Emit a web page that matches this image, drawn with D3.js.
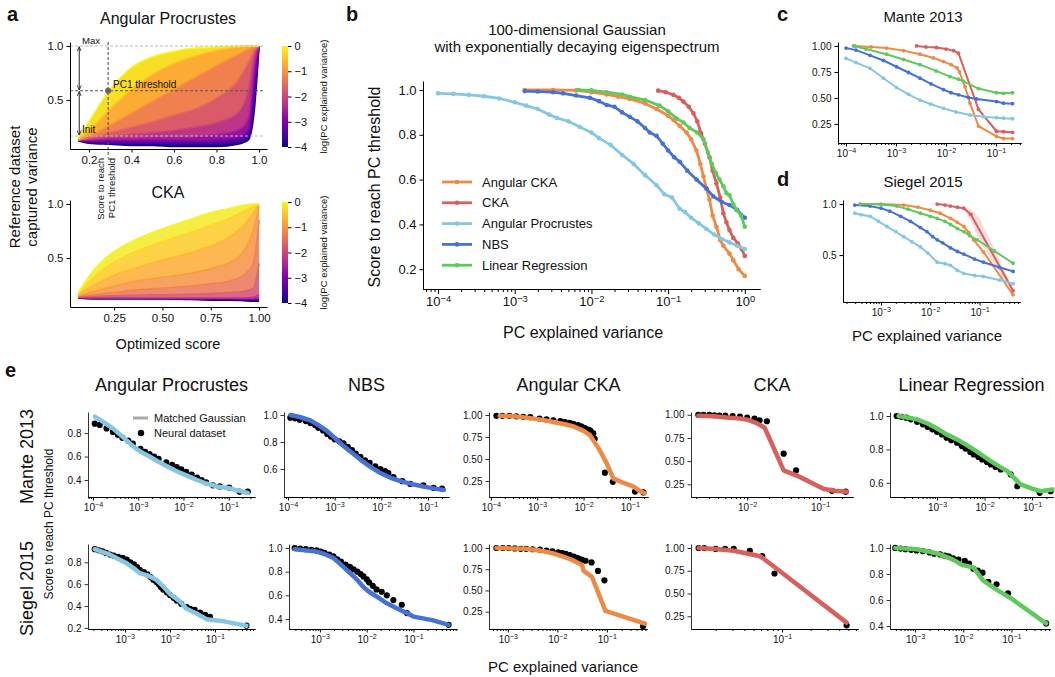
<!doctype html>
<html lang="en">
<head>
<meta charset="utf-8"/>
<title>Score to reach PC threshold</title>
<script src="https://d3js.org/d3.v7.min.js"></script>
<style>
    body { margin: 0; background: #fff; }
    text { font-family: "Liberation Sans", Arial, sans-serif; fill: #111; }
</style>
</head>
<body>
<script>
// ---------------- data ----------------
// panel a: optimisation trajectories, one curve per log(PC explained variance) level (bottom -> top)
const aProcScore = [0.15, 0.2, 0.3, 0.4, 0.5, 0.6, 0.7, 0.8, 0.9, 0.95, 0.98, 1.0];
const aProcLevels = [-4, -3.5, -3, -2.5, -2, -1.5, -1, -0.5, 0];
const aProcCurves = [
    [0.12, 0.10, 0.09, 0.08, 0.08, 0.07, 0.07, 0.07, 0.09, 0.13, 0.45, 1.0],
    [0.12, 0.11, 0.10, 0.10, 0.10, 0.10, 0.10, 0.10, 0.12, 0.17, 0.55, 1.0],
    [0.13, 0.12, 0.12, 0.12, 0.12, 0.12, 0.12, 0.13, 0.15, 0.22, 0.70, 1.0],
    [0.13, 0.13, 0.14, 0.14, 0.15, 0.15, 0.16, 0.18, 0.22, 0.33, 0.85, 1.0],
    [0.13, 0.14, 0.16, 0.18, 0.20, 0.22, 0.25, 0.29, 0.38, 0.60, 0.93, 1.0],
    [0.13, 0.15, 0.20, 0.25, 0.30, 0.36, 0.42, 0.52, 0.68, 0.85, 0.97, 1.0],
    [0.13, 0.17, 0.27, 0.38, 0.49, 0.60, 0.71, 0.82, 0.92, 0.97, 0.99, 1.0],
    [0.14, 0.22, 0.42, 0.60, 0.74, 0.84, 0.91, 0.96, 0.99, 1.0, 1.0, 1.0],
    [0.15, 0.30, 0.60, 0.80, 0.90, 0.95, 0.98, 0.99, 1.0, 1.0, 1.0, 1.0]
];
const aThreshold = {score: 0.29, variance: 0.585, init: 0.167, max: 1.0};

const aCkaScore = [0.065, 0.15, 0.25, 0.35, 0.5, 0.65, 0.75, 0.85, 0.92, 0.97, 1.0];
const aCkaLevels = [-4, -3, -2.2, -1.6, -1.2, -0.9, -0.6, -0.3, 0];
const aCkaCurves = [
    [0.13, 0.12, 0.12, 0.12, 0.12, 0.115, 0.11, 0.11, 0.105, 0.10, 0.10],
    [0.13, 0.125, 0.125, 0.125, 0.12, 0.12, 0.12, 0.12, 0.115, 0.115, 0.12],
    [0.14, 0.13, 0.13, 0.13, 0.13, 0.13, 0.13, 0.13, 0.13, 0.135, 0.16],
    [0.14, 0.145, 0.15, 0.155, 0.16, 0.165, 0.17, 0.18, 0.19, 0.22, 0.45],
    [0.15, 0.16, 0.18, 0.20, 0.22, 0.24, 0.26, 0.29, 0.34, 0.45, 0.85],
    [0.15, 0.19, 0.24, 0.28, 0.32, 0.36, 0.40, 0.46, 0.56, 0.75, 0.98],
    [0.16, 0.25, 0.34, 0.40, 0.48, 0.55, 0.61, 0.70, 0.80, 0.92, 1.0],
    [0.17, 0.33, 0.46, 0.55, 0.65, 0.74, 0.80, 0.87, 0.93, 0.98, 1.0],
    [0.18, 0.40, 0.56, 0.66, 0.77, 0.86, 0.92, 0.96, 0.99, 1.0, 1.0]
];
const colorbarTicks = [0, -1, -2, -3, -4];

// methods (legend order) and colours
const methodNames = ["Angular CKA", "CKA", "Angular Procrustes", "NBS", "Linear Regression"];
const methodColors = ["#ee8a45", "#d75f5c", "#86c6e2", "#4671d5", "#5fc95d"];

// panel b: [log10(PC explained variance), score to reach PC threshold]
const bAngCka = [[-2.87, 1.0], [-2.5, 1.0], [-2.2, 0.998], [-2.0, 0.99], [-1.8, 0.98], [-1.65, 0.97], [-1.5, 0.96], [-1.3, 0.94], [-1.15, 0.915], [-1.0, 0.885], [-0.93, 0.866], [-0.85, 0.84], [-0.76, 0.81], [-0.7, 0.78], [-0.63, 0.73], [-0.58, 0.67], [-0.54, 0.615], [-0.5, 0.56], [-0.46, 0.51], [-0.42, 0.44], [-0.37, 0.39], [-0.32, 0.33], [-0.28, 0.305], [-0.2, 0.27], [-0.15, 0.24], [-0.08, 0.2], [0, 0.17]];
const bCka = [[-1.13, 0.997], [-1.03, 0.99], [-0.93, 0.978], [-0.86, 0.965], [-0.8, 0.948], [-0.73, 0.925], [-0.67, 0.896], [-0.62, 0.86], [-0.57, 0.807], [-0.52, 0.76], [-0.46, 0.70], [-0.42, 0.64], [-0.37, 0.583], [-0.32, 0.52], [-0.28, 0.45], [-0.24, 0.41], [-0.2, 0.375], [-0.15, 0.34], [-0.09, 0.315], [-0.04, 0.29], [0, 0.259]];
const bAngProc = [[-4, 0.985], [-3.8, 0.983], [-3.6, 0.978], [-3.4, 0.972], [-3.2, 0.962], [-3.0, 0.945], [-2.85, 0.93], [-2.7, 0.915], [-2.55, 0.89], [-2.45, 0.875], [-2.3, 0.86], [-2.15, 0.835], [-2.0, 0.81], [-1.9, 0.785], [-1.75, 0.755], [-1.6, 0.71], [-1.45, 0.67], [-1.3, 0.62], [-1.15, 0.575], [-1.05, 0.535], [-0.95, 0.52], [-0.85, 0.47], [-0.78, 0.455], [-0.7, 0.43], [-0.6, 0.405], [-0.5, 0.38], [-0.4, 0.355], [-0.3, 0.335], [-0.2, 0.32], [-0.1, 0.305], [0, 0.29]];
const bNbs = [[-2.87, 0.995], [-2.7, 0.993], [-2.5, 0.99], [-2.37, 0.985], [-2.2, 0.975], [-2.02, 0.965], [-1.9, 0.95], [-1.8, 0.933], [-1.7, 0.925], [-1.6, 0.9], [-1.5, 0.88], [-1.4, 0.86], [-1.3, 0.83], [-1.24, 0.81], [-1.15, 0.795], [-1.07, 0.76], [-1.0, 0.73], [-0.92, 0.7], [-0.85, 0.68], [-0.75, 0.64], [-0.63, 0.6], [-0.5, 0.56], [-0.41, 0.525], [-0.3, 0.5], [-0.2, 0.487], [-0.1, 0.465], [0, 0.43]];
const bLinReg = [[-2.17, 1.0], [-2.0, 0.998], [-1.8, 0.99], [-1.6, 0.98], [-1.5, 0.97], [-1.3, 0.955], [-1.11, 0.93], [-1.0, 0.905], [-0.89, 0.873], [-0.8, 0.855], [-0.72, 0.83], [-0.62, 0.81], [-0.54, 0.78], [-0.48, 0.72], [-0.43, 0.67], [-0.38, 0.63], [-0.33, 0.6], [-0.28, 0.57], [-0.24, 0.54], [-0.2, 0.53], [-0.15, 0.49], [-0.11, 0.465], [-0.05, 0.44], [0, 0.39]];

// panel c: Mante 2013
const cAngCka = [[-3.82, 1.0], [-3.5, 0.99], [-3.19, 0.98], [-2.85, 0.955], [-2.52, 0.92], [-2.25, 0.885], [-2.05, 0.85], [-1.9, 0.82], [-1.78, 0.79], [-1.73, 0.75], [-1.62, 0.61], [-1.52, 0.45], [-1.35, 0.23], [-0.99, 0.13], [-0.85, 0.11], [-0.67, 0.11]];
const cCka = [[-2.59, 1.0], [-2.4, 0.99], [-2.19, 0.985], [-2.0, 0.97], [-1.85, 0.955], [-1.75, 0.93], [-1.35, 0.39], [-0.99, 0.18], [-0.85, 0.175], [-0.67, 0.17]];
const cAngProc = [[-4, 0.88], [-3.8, 0.84], [-3.52, 0.785], [-3.25, 0.69], [-2.99, 0.60], [-2.75, 0.535], [-2.52, 0.48], [-2.3, 0.44], [-2.05, 0.40], [-1.8, 0.365], [-1.52, 0.336], [-1.25, 0.32], [-0.99, 0.31], [-0.85, 0.305], [-0.67, 0.30]];
const cNbs = [[-4, 0.98], [-3.8, 0.96], [-3.52, 0.91], [-3.25, 0.86], [-2.99, 0.80], [-2.75, 0.745], [-2.52, 0.69], [-2.3, 0.635], [-2.05, 0.58], [-1.9, 0.55], [-1.75, 0.53], [-1.55, 0.505], [-1.39, 0.49], [-0.99, 0.465], [-0.85, 0.45], [-0.67, 0.445]];
const cLinReg = [[-3.85, 1.0], [-3.6, 0.97], [-3.19, 0.92], [-2.85, 0.87], [-2.52, 0.82], [-2.2, 0.76], [-1.92, 0.705], [-1.75, 0.68], [-1.65, 0.66], [-1.35, 0.59], [-0.99, 0.55], [-0.85, 0.545], [-0.67, 0.55]];

// panel d: Siegel 2015
const dAngCka = [[-3.42, 1.0], [-3.0, 1.0], [-2.54, 0.99], [-2.25, 0.97], [-2.0, 0.94], [-1.8, 0.91], [-1.59, 0.86], [-1.45, 0.82], [-1.32, 0.78], [-1.22, 0.72], [-1.12, 0.65], [-0.92, 0.53], [-0.32, 0.11]];
const dCka = [[-1.86, 1.0], [-1.7, 0.99], [-1.59, 0.98], [-1.45, 0.97], [-1.32, 0.96], [-1.18, 0.90], [-0.32, 0.15]];
const dCkaBand = [[-1.32, 0.965, 0.955], [-1.18, 0.95, 0.84], [-1.0, 0.86, 0.64], [-0.8, 0.66, 0.48], [-0.32, 0.17, 0.13]];
const dAngProc = [[-3.53, 0.91], [-3.4, 0.895], [-3.22, 0.88], [-3.05, 0.83], [-2.88, 0.78], [-2.7, 0.73], [-2.54, 0.68], [-2.37, 0.63], [-2.2, 0.58], [-2.05, 0.52], [-1.86, 0.43], [-1.7, 0.415], [-1.59, 0.40], [-1.45, 0.35], [-1.32, 0.32], [-1.1, 0.30], [-0.92, 0.29], [-0.6, 0.255], [-0.32, 0.22]];
const dNbs = [[-3.53, 0.99], [-3.22, 0.98], [-3.0, 0.96], [-2.82, 0.93], [-2.6, 0.88], [-2.4, 0.83], [-2.2, 0.77], [-2.07, 0.73], [-1.95, 0.68], [-1.86, 0.65], [-1.75, 0.62], [-1.59, 0.57], [-1.45, 0.535], [-1.32, 0.51], [-1.1, 0.46], [-0.92, 0.43], [-0.6, 0.38], [-0.32, 0.34]];
const dLinReg = [[-3.42, 1.0], [-3.0, 0.995], [-2.68, 0.98], [-2.45, 0.95], [-2.2, 0.91], [-2.0, 0.88], [-1.86, 0.86], [-1.7, 0.83], [-1.59, 0.80], [-1.45, 0.76], [-1.32, 0.73], [-1.2, 0.69], [-1.05, 0.65], [-0.7, 0.54], [-0.32, 0.42]];

// panel e: matched Gaussian (line) vs neural dataset (dots)
const eManteAngProcGauss = [[-3.96, 0.94], [-3.75, 0.89], [-3.56, 0.84], [-3.35, 0.77], [-3.12, 0.69], [-2.95, 0.64], [-2.75, 0.60], [-2.55, 0.555], [-2.38, 0.52], [-2.15, 0.475], [-1.94, 0.44], [-1.7, 0.40], [-1.5, 0.37], [-1.25, 0.345], [-0.99, 0.33], [-0.8, 0.31], [-0.58, 0.29]];
const eManteAngProcNeural = [[-3.96, 0.88], [-3.85, 0.87], [-3.7, 0.84], [-3.56, 0.81], [-3.45, 0.785], [-3.35, 0.76], [-3.22, 0.735], [-3.12, 0.71], [-2.95, 0.665], [-2.85, 0.64], [-2.75, 0.62], [-2.65, 0.60], [-2.55, 0.58], [-2.38, 0.55], [-2.25, 0.53], [-2.15, 0.51], [-2.05, 0.49], [-1.94, 0.47], [-1.82, 0.445], [-1.7, 0.42], [-1.6, 0.40], [-1.5, 0.38], [-1.35, 0.355], [-1.2, 0.345], [-0.99, 0.335], [-0.76, 0.30], [-0.58, 0.30]];
const eSiegelAngProcGauss = [[-3.67, 0.92], [-3.5, 0.895], [-3.33, 0.87], [-3.15, 0.83], [-2.96, 0.79], [-2.8, 0.745], [-2.67, 0.70], [-2.5, 0.68], [-2.3, 0.64], [-2.15, 0.58], [-2.0, 0.51], [-1.8, 0.45], [-1.63, 0.375], [-1.4, 0.33], [-1.19, 0.28], [-0.8, 0.26], [-0.3, 0.22]];
const eSiegelAngProcNeural = [[-3.67, 0.92], [-3.58, 0.91], [-3.5, 0.9], [-3.42, 0.885], [-3.33, 0.87], [-3.25, 0.86], [-3.15, 0.85], [-3.05, 0.84], [-2.96, 0.825], [-2.88, 0.8], [-2.8, 0.78], [-2.73, 0.755], [-2.67, 0.73], [-2.58, 0.71], [-2.5, 0.69], [-2.43, 0.665], [-2.37, 0.64], [-2.3, 0.62], [-2.25, 0.6], [-2.2, 0.575], [-2.15, 0.55], [-2.07, 0.525], [-2.0, 0.5], [-1.92, 0.475], [-1.85, 0.45], [-1.75, 0.42], [-1.63, 0.39], [-1.55, 0.375], [-1.45, 0.365], [-1.33, 0.34], [-1.22, 0.32], [-1.11, 0.30], [-0.3, 0.22]];
const eManteNbsGauss = [[-3.95, 1.0], [-3.75, 0.985], [-3.52, 0.96], [-3.35, 0.925], [-3.16, 0.88], [-3.0, 0.83], [-2.81, 0.77], [-2.63, 0.72], [-2.45, 0.67], [-2.25, 0.62], [-2.02, 0.57], [-1.8, 0.535], [-1.59, 0.51], [-1.3, 0.485], [-1.09, 0.47], [-0.85, 0.455], [-0.66, 0.445]];
const eManteNbsNeural = [[-3.95, 0.98], [-3.85, 0.975], [-3.75, 0.965], [-3.62, 0.955], [-3.52, 0.94], [-3.42, 0.925], [-3.35, 0.905], [-3.25, 0.885], [-3.16, 0.86], [-3.08, 0.84], [-3.0, 0.82], [-2.9, 0.805], [-2.81, 0.79], [-2.72, 0.765], [-2.63, 0.74], [-2.55, 0.715], [-2.45, 0.69], [-2.35, 0.665], [-2.25, 0.645], [-2.13, 0.62], [-2.02, 0.60], [-1.92, 0.585], [-1.85, 0.57], [-1.74, 0.54], [-1.55, 0.51], [-1.38, 0.49], [-1.1, 0.48], [-0.88, 0.46], [-0.7, 0.455]];
const eSiegelNbsGauss = [[-3.54, 0.99], [-3.3, 0.98], [-3.07, 0.97], [-2.9, 0.95], [-2.71, 0.915], [-2.55, 0.86], [-2.36, 0.79], [-2.2, 0.73], [-2.07, 0.67], [-1.95, 0.63], [-1.79, 0.59], [-1.6, 0.54], [-1.36, 0.49], [-1.2, 0.46], [-1.14, 0.45], [-1.0, 0.42], [-0.6, 0.39], [-0.25, 0.35]];
const eSiegelNbsNeural = [[-3.54, 1.0], [-3.42, 0.995], [-3.3, 0.99], [-3.18, 0.985], [-3.07, 0.98], [-2.98, 0.97], [-2.9, 0.96], [-2.8, 0.945], [-2.71, 0.93], [-2.63, 0.905], [-2.55, 0.885], [-2.45, 0.86], [-2.36, 0.84], [-2.28, 0.82], [-2.2, 0.80], [-2.13, 0.78], [-2.07, 0.76], [-2.0, 0.735], [-1.95, 0.71], [-1.87, 0.68], [-1.79, 0.65], [-1.68, 0.63], [-1.57, 0.60], [-1.43, 0.56], [-1.25, 0.52], [-1.14, 0.45], [-0.25, 0.35]];
const eManteAngCkaGauss = [[-3.81, 0.99], [-3.5, 0.985], [-3.23, 0.97], [-2.95, 0.95], [-2.65, 0.92], [-2.4, 0.895], [-2.22, 0.87], [-2.0, 0.82], [-1.86, 0.77], [-1.75, 0.68], [-1.65, 0.60], [-1.5, 0.45], [-1.36, 0.28], [-1.15, 0.23], [-0.93, 0.19], [-0.8, 0.14], [-0.68, 0.11]];
const eManteAngCkaNeural = [[-3.88, 0.99], [-3.75, 0.99], [-3.6, 0.99], [-3.45, 0.985], [-3.3, 0.98], [-3.15, 0.975], [-2.95, 0.96], [-2.8, 0.95], [-2.65, 0.94], [-2.5, 0.93], [-2.4, 0.92], [-2.3, 0.91], [-2.22, 0.90], [-2.12, 0.885], [-2.05, 0.87], [-1.98, 0.855], [-1.94, 0.84], [-1.88, 0.83], [-1.85, 0.82], [-1.79, 0.79], [-1.76, 0.73], [-1.54, 0.345], [-1.37, 0.24], [-0.89, 0.13], [-0.71, 0.12]];
const eSiegelAngCkaGauss = [[-3.23, 1.0], [-2.9, 0.995], [-2.63, 0.99], [-2.35, 0.97], [-2.1, 0.94], [-1.9, 0.9], [-1.7, 0.86], [-1.5, 0.80], [-1.47, 0.73], [-1.3, 0.66], [-1.03, 0.26], [-0.23, 0.11]];
const eSiegelAngCkaNeural = [[-3.23, 1.0], [-3.1, 1.0], [-2.98, 1.0], [-2.86, 0.995], [-2.74, 0.99], [-2.63, 0.99], [-2.5, 0.985], [-2.35, 0.98], [-2.22, 0.97], [-2.1, 0.96], [-1.98, 0.95], [-1.9, 0.94], [-1.83, 0.93], [-1.75, 0.915], [-1.67, 0.90], [-1.6, 0.885], [-1.55, 0.87], [-1.5, 0.86], [-1.43, 0.85], [-1.31, 0.83], [-1.18, 0.73], [-1.05, 0.62], [-0.27, 0.08]];
const eManteCkaGauss = [[-2.67, 0.99], [-2.45, 0.985], [-2.28, 0.97], [-2.1, 0.96], [-2.01, 0.95], [-1.87, 0.91], [-1.76, 0.86], [-1.5, 0.40], [-1.28, 0.33], [-0.95, 0.20], [-0.8, 0.18], [-0.63, 0.17]];
const eManteCkaNeural = [[-2.67, 1.0], [-2.6, 1.0], [-2.52, 1.0], [-2.45, 0.995], [-2.38, 0.99], [-2.3, 0.99], [-2.2, 0.985], [-2.1, 0.98], [-2.0, 0.97], [-1.9, 0.96], [-1.83, 0.94], [-1.73, 0.93], [-1.5, 0.58], [-1.33, 0.40], [-0.84, 0.18], [-0.65, 0.17]];
const eSiegelCkaGauss = [[-1.88, 1.0], [-1.7, 0.99], [-1.51, 0.97], [-1.23, 0.91], [-1.09, 0.80], [-0.32, 0.18]];
const eSiegelCkaNeural = [[-1.88, 1.0], [-1.82, 1.0], [-1.7, 0.99], [-1.6, 0.99], [-1.51, 0.99], [-1.34, 0.97], [-1.21, 0.91], [-1.08, 0.72], [-0.32, 0.15]];
const eManteLinRegGauss = [[-3.81, 1.0], [-3.6, 0.99], [-3.42, 0.98], [-3.2, 0.955], [-3.0, 0.925], [-2.8, 0.89], [-2.58, 0.86], [-2.4, 0.83], [-2.23, 0.80], [-2.05, 0.765], [-1.87, 0.73], [-1.7, 0.70], [-1.52, 0.67], [-1.38, 0.63], [-1.24, 0.59], [-1.0, 0.565], [-0.82, 0.55], [-0.57, 0.56]];
const eManteLinRegNeural = [[-3.85, 1.0], [-3.75, 0.995], [-3.65, 0.99], [-3.55, 0.98], [-3.42, 0.965], [-3.3, 0.95], [-3.2, 0.935], [-3.1, 0.92], [-3.0, 0.905], [-2.9, 0.89], [-2.8, 0.87], [-2.7, 0.855], [-2.58, 0.84], [-2.48, 0.82], [-2.4, 0.805], [-2.3, 0.785], [-2.23, 0.77], [-2.13, 0.755], [-2.05, 0.74], [-1.95, 0.725], [-1.87, 0.71], [-1.77, 0.695], [-1.66, 0.68], [-1.45, 0.65], [-1.31, 0.58], [-0.84, 0.54], [-0.61, 0.55]];
const eSiegelLinRegGauss = [[-3.41, 1.0], [-3.2, 0.995], [-2.97, 0.99], [-2.7, 0.97], [-2.48, 0.95], [-2.21, 0.91], [-2.03, 0.87], [-1.79, 0.85], [-1.59, 0.75], [-1.31, 0.68], [-1.0, 0.61], [-0.28, 0.42]];
const eSiegelLinRegNeural = [[-3.41, 1.0], [-3.3, 0.995], [-3.2, 0.99], [-3.08, 0.985], [-2.97, 0.98], [-2.84, 0.975], [-2.7, 0.965], [-2.6, 0.955], [-2.48, 0.95], [-2.38, 0.94], [-2.3, 0.935], [-2.21, 0.92], [-2.1, 0.91], [-1.97, 0.90], [-1.88, 0.88], [-1.79, 0.84], [-1.7, 0.825], [-1.6, 0.81], [-1.48, 0.74], [-1.31, 0.72], [-1.07, 0.65], [-0.28, 0.42]];

const eRowNames = ["Mante 2013", "Siegel 2015"];
const eGauss = [
    [eManteAngProcGauss, eManteNbsGauss, eManteAngCkaGauss, eManteCkaGauss, eManteLinRegGauss],
    [eSiegelAngProcGauss, eSiegelNbsGauss, eSiegelAngCkaGauss, eSiegelCkaGauss, eSiegelLinRegGauss]
];
const eNeural = [
    [eManteAngProcNeural, eManteNbsNeural, eManteAngCkaNeural, eManteCkaNeural, eManteLinRegNeural],
    [eSiegelAngProcNeural, eSiegelNbsNeural, eSiegelAngCkaNeural, eSiegelCkaNeural, eSiegelLinRegNeural]
];
const eColumnMethod = [2, 3, 0, 1, 4]; // index into methodNames
const eYTicks = [
    [[0.4, 0.6, 0.8], [0.6, 0.8, 1.0], [0.25, 0.5, 0.75, 1.0], [0.25, 0.5, 0.75, 1.0], [0.6, 0.8, 1.0]],
    [[0.2, 0.4, 0.6, 0.8], [0.4, 0.6, 0.8, 1.0], [0.25, 0.5, 0.75, 1.0], [0.25, 0.5, 0.75, 1.0], [0.4, 0.6, 0.8, 1.0]]
];

// ---------------- layout ----------------
// [x0, x1, log lo, log hi, y lo, y hi] per small panel of e
const eLayout = [
    [[88, 255, -4.11, -0.42, 0.255, 0.98], [284, 449, -4.086, -0.55, 0.393, 1.022], [489, 648, -4.04, -0.61, 0.068, 1.034], [691, 853, -2.77, -0.55, 0.113, 1.03], [890, 1053, -3.99, -0.56, 0.515, 1.024]],
    [[88, 255, -3.82, -0.11, 0.19, 0.967], [289, 457, -3.66, -0.07, 0.315, 1.034], [489, 647, -3.38, -0.19, 0.047, 1.047], [691, 858, -1.96, -0.2, 0.11, 1.044], [890, 1050, -3.52, -0.2, 0.377, 1.03]]
];
const eRowTop = [412, 544], eRowBottom = [497, 629];

const svg = d3.select("body").append("svg")
    .attr("width", 1055).attr("height", 677)
    .style("display", "block");
const defs = svg.append("defs");
const DV = "DejaVu Sans, sans-serif";
const LS = "Liberation Sans, Arial, sans-serif";
const pow10 = e => Math.pow(10, e);
const plasma = lvl => d3.interpolatePlasma((lvl + 4) / 4);

// ---------------- helpers ----------------
function axisLeft(x0, y, ticks, fmt, fs, ff) {
    return svg.append("g").attr("transform", `translate(${x0},0)`)
        .call(d3.axisLeft(y).tickValues(ticks).tickFormat(d3.format(fmt)).tickSize(3.5).tickPadding(3).tickSizeOuter(0))
        .attr("font-size", fs).attr("font-family", ff);
}

function axisBottom(y0, x, ticks, fmt, fs, ff) {
    return svg.append("g").attr("transform", `translate(0,${y0})`)
        .call(d3.axisBottom(x).tickValues(ticks).tickFormat(d3.format(fmt)).tickSize(3.5).tickPadding(3).tickSizeOuter(0))
        .attr("font-size", fs).attr("font-family", ff);
}

function logAxisBottom(y0, x, fs, ff, majLen, minLen) {
    const [a, b] = x.domain();
    const majors = [], minors = [];
    for (let e = Math.floor(Math.log10(a)); e <= Math.ceil(Math.log10(b)); e++) {
        for (let m = 1; m < 10; m++) {
            const v = m * pow10(e);
            if (v < a || v > b) continue;
            (m === 1 ? majors : minors).push(v);
        }
    }
    svg.append("g").attr("transform", `translate(0,${y0})`)
        .call(d3.axisBottom(x).tickValues(minors).tickFormat("").tickSize(minLen).tickSizeOuter(0));
    const g = svg.append("g").attr("transform", `translate(0,${y0})`)
        .call(d3.axisBottom(x).tickValues(majors).tickFormat(() => "10").tickSize(majLen).tickPadding(3).tickSizeOuter(0))
        .attr("font-size", fs).attr("font-family", ff);
    g.selectAll(".tick text").append("tspan")
        .attr("dy", "-0.5em").attr("font-size", fs * 0.72)
        .text(d => d3.format("d")(Math.round(Math.log10(d))));
    return g;
}

function label(x, y, txt, opts = {}) {
    const t = svg.append("text").attr("x", x).attr("y", y).text(txt)
        .attr("font-size", opts.size || 14)
        .attr("text-anchor", opts.anchor || "middle")
        .attr("font-family", opts.family || LS);
    if (opts.weight) t.attr("font-weight", opts.weight);
    if (opts.rotate) t.attr("transform", `rotate(-90,${x},${y})`);
    if (opts.fill) t.style("fill", opts.fill);
    return t;
}

// trajectories filled band by band, bottom to top
function trajectories(scores, levels, curves, xs, ys, bandOpacity) {
    const g = svg.append("g");
    for (let k = 0; k < curves.length - 1; k++) {
        const area = d3.area()
            .x((d, i) => xs(scores[i]))
            .y0((d, i) => ys(curves[k][i]))
            .y1((d, i) => ys(curves[k + 1][i]))
            .curve(d3.curveMonotoneX);
        g.append("path").attr("d", area(scores))
            .attr("fill", plasma((levels[k] + levels[k + 1]) / 2))
            .attr("opacity", bandOpacity);
    }
    curves.forEach((c, k) => {
        const line = d3.line().x((d, i) => xs(scores[i])).y((d, i) => ys(c[i])).curve(d3.curveMonotoneX);
        g.append("path").attr("d", line(scores)).attr("fill", "none")
            .attr("stroke", plasma(levels[k])).attr("stroke-width", 1.6);
    });
}

function colorbar(x, y0, y1, id) {
    const grad = defs.append("linearGradient").attr("id", id)
        .attr("x1", 0).attr("y1", 1).attr("x2", 0).attr("y2", 0);
    d3.range(11).forEach(i => grad.append("stop")
        .attr("offset", i / 10).attr("stop-color", d3.interpolatePlasma(i / 10)));
    svg.append("rect").attr("x", x).attr("y", y0).attr("width", 6).attr("height", y1 - y0)
        .attr("fill", `url(#${id})`);
    const s = d3.scaleLinear().domain(d3.extent(colorbarTicks)).range([y1, y0]);
    svg.append("g").attr("transform", `translate(${x + 6},0)`)
        .call(d3.axisRight(s).tickValues(colorbarTicks).tickFormat(d3.format("d")).tickSize(3.5).tickPadding(3).tickSizeOuter(0))
        .attr("font-size", 11).attr("font-family", DV)
        .call(g => g.select(".domain").remove());
    label(x + 45, (y0 + y1) / 2, "log(PC explained variance)", {size: 9.5, rotate: true});
}

function series(xs, ys, data, color, width, r) {
    const line = d3.line().x(d => xs(pow10(d[0]))).y(d => ys(d[1]));
    svg.append("path").attr("d", line(data)).attr("fill", "none")
        .attr("stroke", color).attr("stroke-width", width)
        .attr("stroke-linejoin", "round").attr("stroke-linecap", "round");
    svg.append("g").selectAll("circle").data(data).join("circle")
        .attr("cx", d => xs(pow10(d[0]))).attr("cy", d => ys(d[1])).attr("r", r)
        .attr("fill", color);
}

// ---------------- panel a ----------------
label(7, 21, "a", {size: 20, weight: "bold", anchor: "start"});
label(168, 24, "Angular Procrustes", {size: 16});
{
    const xs = d3.scaleLinear().domain([0.1106, 1.0376]).range([70, 267]);
    const ys = d3.scaleLinear().domain([0.046, 1.037]).range([149, 42]);
    trajectories(aProcScore, aProcLevels, aProcCurves, xs, ys, 1);

    const light = "#bbbbbb", dark = "#555555";
    [[aThreshold.max, light], [aThreshold.variance, dark], [aThreshold.init, light]].forEach(([v, c]) => {
        svg.append("line").attr("x1", 70).attr("x2", 265).attr("y1", ys(v)).attr("y2", ys(v))
            .attr("stroke", c).attr("stroke-width", 1.1).attr("stroke-dasharray", "3,2");
    });
    svg.append("line").attr("x1", xs(aThreshold.score)).attr("x2", xs(aThreshold.score))
        .attr("y1", ys(aThreshold.max) - 4).attr("y2", 158)
        .attr("stroke", dark).attr("stroke-width", 1.1).attr("stroke-dasharray", "3,2");
    svg.append("circle").attr("cx", xs(aThreshold.score)).attr("cy", ys(aThreshold.variance))
        .attr("r", 3).attr("fill", "#666");

    defs.append("marker").attr("id", "arr").attr("viewBox", "0 0 10 10")
        .attr("refX", 9).attr("refY", 5).attr("markerWidth", 5).attr("markerHeight", 5)
        .attr("orient", "auto-start-reverse")
        .append("path").attr("d", "M0,1L10,5L0,9").attr("fill", "none")
        .attr("stroke", "#222").attr("stroke-width", 1.6);
    const ax = xs(0.154);
    [[aThreshold.max, aThreshold.variance], [aThreshold.variance, aThreshold.init]].forEach(([a, b]) => {
        svg.append("line").attr("x1", ax).attr("x2", ax).attr("y1", ys(a) + 1).attr("y2", ys(b) - 1)
            .attr("stroke", "#222").attr("stroke-width", 1)
            .attr("marker-start", "url(#arr)").attr("marker-end", "url(#arr)");
    });
    label(82, 44, "Max", {size: 9.5, anchor: "start", family: DV});
    label(82, 133, "Init", {size: 10, anchor: "start", family: DV});
    label(113, 88, "PC1 threshold", {size: 10, anchor: "start", family: DV});

    axisLeft(70, ys, [0.5, 1.0], ".1f", 11.5, DV);
    axisBottom(149, xs, [0.2, 0.4, 0.6, 0.8, 1.0], ".1f", 11.5, DV);
    colorbar(282, 46, 147, "cbTop");

    label(104, 158, "Score to reach", {size: 9.5, anchor: "end", rotate: true});
    label(115, 158, "PC1 threshold", {size: 9.5, anchor: "end", rotate: true});
}

label(168, 198, "CKA", {size: 16});
{
    const xs = d3.scaleLinear().domain([0.022, 1.041]).range([70, 267]);
    const ys = d3.scaleLinear().domain([0.046, 1.037]).range([307, 200]);
    trajectories(aCkaScore, aCkaLevels, aCkaCurves, xs, ys, 0.85);
    axisLeft(70, ys, [0.5, 1.0], ".1f", 11.5, DV);
    axisBottom(307, xs, [0.25, 0.5, 0.75, 1.0], ".2f", 11.5, DV);
    colorbar(282, 202, 303, "cbBottom");
    label(168, 349, "Optimized score", {size: 14.5});
}
label(20, 187, "Reference dataset", {size: 15, rotate: true});
label(37, 187, "captured variance", {size: 15, rotate: true});

// ---------------- panel b ----------------
label(346, 21, "b", {size: 20, weight: "bold", anchor: "start"});
label(577, 35, "100-dimensional Gaussian", {size: 15});
label(577, 52, "with exponentially decaying eigenspectrum", {size: 15});
{
    const xs = d3.scaleLog().domain([pow10(-4.196), pow10(0.198)]).range([423, 760]);
    const ys = d3.scaleLinear().domain([0.112, 1.04]).range([289, 81]);
    const bSeries = [bAngCka, bCka, bAngProc, bNbs, bLinReg];
    bSeries.forEach((s, i) => series(xs, ys, s, methodColors[i], 2.8, 2.3));
    axisLeft(423, ys, [0.2, 0.4, 0.6, 0.8, 1.0], ".1f", 13, DV);
    logAxisBottom(289, xs, 13, DV, 5, 3);
    label(380, 187, "Score to reach PC threshold", {size: 16, rotate: true});
    label(583, 338, "PC explained variance", {size: 16});

    methodNames.forEach((name, i) => {
        const y = 182 + i * 20.8;
        svg.append("line").attr("x1", 442).attr("x2", 472).attr("y1", y).attr("y2", y)
            .attr("stroke", methodColors[i]).attr("stroke-width", 2.8);
        svg.append("circle").attr("cx", 457).attr("cy", y).attr("r", 2.3).attr("fill", methodColors[i]);
        label(482, y + 4.6, name, {size: 13, anchor: "start", family: DV});
    });
}

// ---------------- panels c & d ----------------
label(777, 21, "c", {size: 20, weight: "bold", anchor: "start"});
label(923, 22, "Mante 2013", {size: 15});
{
    const xs = d3.scaleLog().domain([pow10(-4.16), pow10(-0.5)]).range([838, 1021]);
    const ys = d3.scaleLinear().domain([0.067, 1.038]).range([143, 42]);
    [cAngCka, cCka, cAngProc, cNbs, cLinReg].forEach((s, i) => series(xs, ys, s, methodColors[i], 2, 1.9));
    axisLeft(838, ys, [0.25, 0.5, 0.75, 1.0], ".2f", 10, DV);
    logAxisBottom(143, xs, 10, DV, 3.5, 2);
}
label(777, 186, "d", {size: 20, weight: "bold", anchor: "start"});
label(923, 187, "Siegel 2015", {size: 15});
{
    const xs = d3.scaleLog().domain([pow10(-3.77), pow10(-0.18)]).range([843, 1020]);
    const ys = d3.scaleLinear().domain([0.04, 1.04]).range([302, 200]);
    const band = d3.area().x(d => xs(pow10(d[0]))).y0(d => ys(d[2])).y1(d => ys(d[1]));
    svg.append("path").attr("d", band(dCkaBand)).attr("fill", methodColors[1]).attr("opacity", 0.22);
    [dAngCka, dCka, dAngProc, dNbs, dLinReg].forEach((s, i) => series(xs, ys, s, methodColors[i], 2, 1.9));
    axisLeft(843, ys, [0.5, 1.0], ".1f", 10, DV);
    logAxisBottom(302, xs, 10, DV, 3.5, 2);
    label(927, 341, "PC explained variance", {size: 15});
}

// ---------------- panel e ----------------
label(5, 377, "e", {size: 20, weight: "bold", anchor: "start"});
eRowNames.forEach((name, r) => {
    label(33, (eRowTop[r] + eRowBottom[r]) / 2 + 2, name, {size: 18, rotate: true});
});
label(53, 524, "Score to reach PC threshold", {size: 12, rotate: true});

eColumnMethod.forEach((m, c) => {
    const [x0, x1] = eLayout[0][c];
    label((x0 + x1) / 2, 391, methodNames[m], {size: 18});
    for (let r = 0; r < 2; r++) {
        const [a0, a1, lo, hi, ylo, yhi] = eLayout[r][c];
        const xs = d3.scaleLog().domain([pow10(lo), pow10(hi)]).range([a0, a1]);
        const ys = d3.scaleLinear().domain([ylo, yhi]).range([eRowBottom[r], eRowTop[r]]);
        svg.append("g").selectAll("circle").data(eNeural[r][c]).join("circle")
            .attr("cx", d => xs(pow10(d[0]))).attr("cy", d => ys(d[1])).attr("r", 3.1)
            .attr("fill", "#000");
        const line = d3.line().x(d => xs(pow10(d[0]))).y(d => ys(d[1]));
        svg.append("path").attr("d", line(eGauss[r][c])).attr("fill", "none")
            .attr("stroke", methodColors[m]).attr("stroke-width", 4.5)
            .attr("stroke-linejoin", "round").attr("stroke-linecap", "round");
        const fmt = eYTicks[r][c].some(v => Math.round(v * 100) % 10 !== 0) ? ".2f" : ".1f";
        axisLeft(a0, ys, eYTicks[r][c], fmt, 10, LS).selectAll("path,line").attr("stroke", "#333");
        logAxisBottom(eRowBottom[r], xs, 10, LS, 3.5, 2);
    }
});
label(563, 672, "PC explained variance", {size: 15});

// legend of e
svg.append("line").attr("x1", 133).attr("x2", 148).attr("y1", 418).attr("y2", 418)
    .attr("stroke", "#aaaaaa").attr("stroke-width", 3);
label(154, 422, "Matched Gaussian", {size: 11, anchor: "start"});
svg.append("circle").attr("cx", 141).attr("cy", 433).attr("r", 3.2).attr("fill", "#000");
label(154, 437, "Neural dataset", {size: 11, anchor: "start"});
</script>
</body>
</html>
